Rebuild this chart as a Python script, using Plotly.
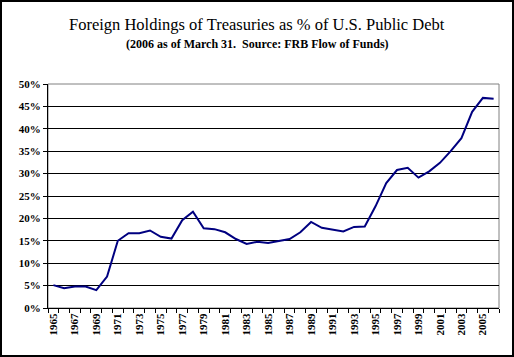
import plotly.graph_objects as go

years = list(range(1965, 2007))
foreign_pct = [5.1, 4.4, 4.8, 4.8, 4.0, 7.0, 15.0, 16.7, 16.7, 17.3, 15.9, 15.5,
               19.6, 21.5, 17.8, 17.6, 16.9, 15.4, 14.3, 14.8, 14.5, 15.0, 15.4, 16.9,
               19.2, 17.9, 17.5, 17.1, 18.1, 18.2, 22.7, 27.9, 30.8, 31.3, 29.1, 30.5,
               32.4, 35.0, 37.9, 43.8, 46.9, 46.7]
label_years = list(range(1965, 2007, 2))
y_ticks = list(range(0, 51, 5))
y_labels = [f"{v}%" for v in y_ticks]

title = "Foreign Holdings of Treasuries as % of U.S. Public Debt"
subtitle = "(2006 as of March 31.  Source: FRB Flow of Funds)"

W, H = 514, 357
L, R, T, B = 48, 15, 84, 49
pw, ph = W - L - R, H - T - B
serif = "Liberation Serif"

fig = go.Figure()
fig.add_trace(go.Scatter(x=years, y=foreign_pct, mode="lines",
                         line=dict(color="#000080", width=2), hoverinfo="skip"))

fig.update_layout(
    width=W, height=H,
    margin=dict(l=L, r=R, t=T, b=B),
    paper_bgcolor="white", plot_bgcolor="white",
    showlegend=False,
    font=dict(family=serif, color="black"),
    xaxis=dict(
        range=[years[0] - 0.5, years[-1] + 0.5],
        tickmode="array", tickvals=label_years, ticktext=[str(y) for y in label_years],
        tickangle=-90, ticks="", showgrid=False, zeroline=False,
        showline=True, linecolor="black", linewidth=1,
        tickfont=dict(family=serif, size=11, weight="bold"),
        minor=dict(tickmode="array", tickvals=[y - 0.5 for y in years] + [years[-1] + 0.5],
                   ticks="outside", ticklen=4, tickcolor="black", showgrid=False),
    ),
    yaxis=dict(
        range=[0, 50], tickmode="array", tickvals=y_ticks, ticktext=y_labels,
        ticks="outside", ticklen=4, tickcolor="black",
        showgrid=True, gridcolor="black", gridwidth=1, zeroline=False,
        showline=True, linecolor="black", linewidth=1,
        tickfont=dict(family=serif, size=11, weight="bold"),
    ),
    shapes=[
        dict(type="rect", xref="paper", yref="paper", x0=0, x1=1, y0=0, y1=1,
             line=dict(color="#808080", width=1), layer="below"),
        dict(type="rect", xref="paper", yref="paper",
             x0=(-L + 1) / pw, x1=(W - L - 1) / pw,
             y0=(-B + 1) / ph, y1=(H - B - 1) / ph,
             line=dict(color="black", width=2)),
    ],
    annotations=[
        dict(text=title, xref="paper", yref="paper", x=(257 - L) / pw, y=(H - B - 25) / ph,
             xanchor="center", yanchor="middle", showarrow=False,
             font=dict(family=serif, size=16.5, color="black")),
        dict(text=subtitle, xref="paper", yref="paper", x=(257 - L) / pw, y=(H - B - 44) / ph,
             xanchor="center", yanchor="middle", showarrow=False,
             font=dict(family=serif, size=12, color="black", weight="bold")),
    ],
)

fig.write_html("out.html", config={"displayModeBar": False},
               post_script="document.body.style.margin='0';document.body.style.overflow='hidden';")
